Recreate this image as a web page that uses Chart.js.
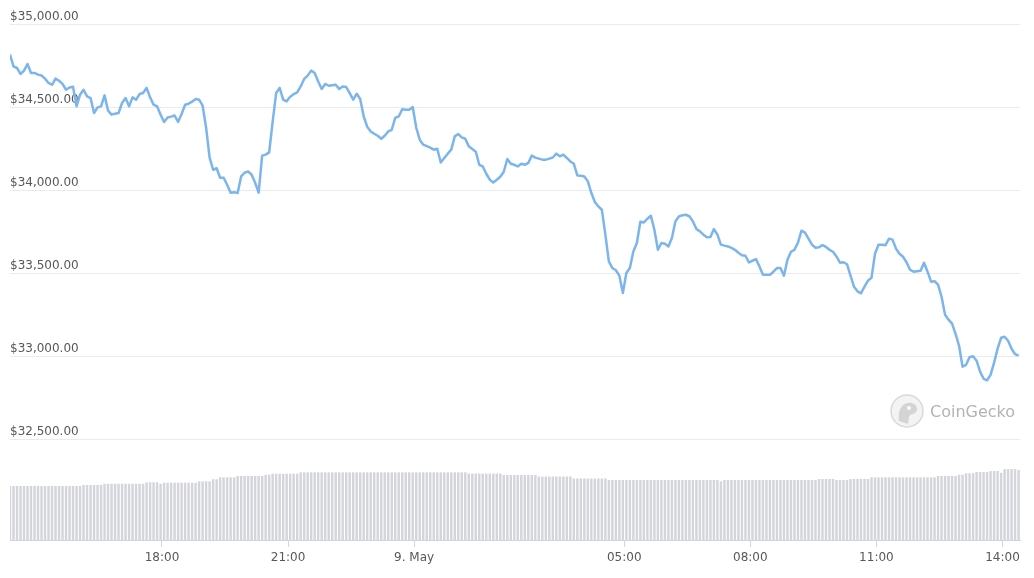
<!DOCTYPE html>
<html>
<head>
<meta charset="utf-8">
<title>BTC price, last 24h</title>
<script src="https://cdn.jsdelivr.net/npm/chart.js@4.4.1/dist/chart.umd.min.js"></script>
<style>
  body { margin: 0; background: #fff; }
  .wrap { position: relative; width: 1034px; height: 578px; }
  .mark {
    position: absolute; left: 890px; top: 394px;
    display: flex; align-items: center;
    font-family: "DejaVu Sans", sans-serif; font-size: 16px; color: #b3b3b3;
  }
  .mark span { margin-left: 6px; }
</style>
</head>
<body>
<div class="wrap">
  <canvas id="chart" width="1034" height="578"></canvas>
  <div class="mark">
    <svg width="34" height="34" viewBox="0 0 34 34">
      <circle cx="17" cy="17" r="16" fill="#f3f3f3" stroke="#d9d9d9" stroke-width="1.5"/>
      <path d="M9 27 C8 18 10 11 17 9 C23 8 27 11 27 15 C27 19 23 20 20 21 C18 23 19 27 18 30 Z" fill="#d4d4d4"/>
      <circle cx="19" cy="14" r="2" fill="#fafafa"/>
    </svg>
    <span>CoinGecko</span>
  </div>
</div>
<script>
// minutes after 14:23 on 8 May, one sample every 5 minutes
const stepMinutes = 5;

// price in USD, one row = one hour
const prices = [
  34815, 34745, 34735, 34699, 34719, 34759, 34705, 34705, 34695, 34690, 34671, 34645,
  34634, 34671, 34658, 34639, 34604, 34618, 34622, 34504, 34574, 34604, 34564, 34554,
  34464, 34498, 34504, 34570, 34478, 34454, 34460, 34464, 34524, 34554, 34504, 34558,
  34544, 34578, 34584, 34615, 34558, 34514, 34504, 34454, 34410, 34437, 34442, 34449,
  34410, 34458, 34514, 34520, 34532, 34548, 34544, 34508, 34375, 34195, 34122, 34131,
  34074, 34074, 34032, 33984, 33987, 33982, 34082, 34104, 34112, 34092, 34044, 33984,
  34207, 34213, 34227, 34412, 34584, 34615, 34544, 34534, 34562, 34577, 34588, 34624,
  34669, 34689, 34719, 34705, 34654, 34609, 34639, 34628, 34631, 34634, 34609, 34624,
  34620, 34584, 34544, 34580, 34548, 34443, 34381, 34353, 34339, 34327, 34309, 34327,
  34353, 34363, 34434, 34443, 34487, 34484, 34484, 34500, 34375, 34303, 34273, 34264,
  34255, 34243, 34249, 34166, 34193, 34219, 34243, 34323, 34337, 34317, 34309, 34263,
  34247, 34231, 34152, 34142, 34098, 34062, 34046, 34062, 34080, 34110, 34187, 34158,
  34152, 34142, 34158, 34152, 34163, 34207, 34195, 34189, 34183, 34183, 34189, 34196,
  34219, 34203, 34213, 34193, 34172, 34158, 34088, 34086, 34082, 34052, 33982, 33928,
  33901, 33881, 33731, 33570, 33530, 33517, 33484, 33380, 33500, 33530, 33630, 33681,
  33809, 33805, 33827, 33845, 33761, 33640, 33681, 33677, 33660, 33711, 33811, 33841,
  33848, 33851, 33842, 33811, 33765, 33751, 33731, 33715, 33717, 33765, 33731, 33671,
  33665, 33660, 33651, 33640, 33622, 33607, 33604, 33564, 33574, 33584, 33540, 33490,
  33490, 33490, 33508, 33530, 33530, 33484, 33580, 33628, 33640, 33683, 33755, 33743,
  33707, 33671, 33652, 33655, 33668, 33657, 33640, 33628, 33600, 33562, 33565, 33553,
  33484, 33418, 33390, 33378, 33418, 33454, 33472, 33616, 33671, 33671, 33668, 33707,
  33701, 33646, 33616, 33598, 33565, 33520, 33508, 33511, 33514, 33562, 33508, 33448,
  33451, 33430, 33357, 33249, 33219, 33195, 33134, 33062, 32936, 32947, 32993, 32999,
  32972, 32906, 32863, 32854, 32887, 32960, 33044, 33110, 33116, 33092, 33044, 33011,
  33002
];

// 24h volume, billions USD
const volumes = [
  36.0, 36.0, 36.0, 36.0, 36.0, 36.0, 36.0, 36.0, 36.0, 36.0, 36.0, 36.0,
  36.0, 36.0, 36.0, 36.0, 36.0, 36.0, 36.0, 36.0, 36.0, 36.7, 36.7, 36.7,
  36.7, 36.7, 36.7, 37.5, 37.5, 37.5, 37.5, 37.5, 37.5, 37.5, 37.5, 37.5,
  37.5, 37.5, 37.5, 38.5, 38.5, 38.5, 38.5, 37.5, 38.2, 38.2, 38.2, 38.2,
  38.2, 38.2, 38.2, 38.2, 38.2, 38.2, 39.1, 39.1, 39.1, 39.1, 40.5, 40.5,
  41.8, 41.8, 41.8, 41.8, 41.8, 42.7, 42.7, 42.7, 42.7, 42.7, 42.7, 42.7,
  42.7, 43.5, 43.5, 44.2, 44.2, 44.2, 44.2, 44.2, 44.2, 44.2, 44.2, 45.1,
  45.1, 45.1, 45.1, 45.1, 45.1, 45.1, 45.1, 45.1, 45.1, 45.1, 45.1, 45.1,
  45.1, 45.1, 45.1, 45.1, 45.1, 45.1, 45.1, 45.1, 45.1, 45.1, 45.1, 45.1,
  45.1, 45.1, 45.1, 45.1, 45.1, 45.1, 45.1, 45.1, 45.1, 45.1, 45.1, 45.1,
  45.1, 45.1, 45.1, 45.1, 45.1, 45.1, 45.1, 45.1, 45.1, 45.1, 45.1, 44.3,
  44.3, 44.3, 44.3, 44.3, 44.3, 44.3, 44.3, 44.3, 44.3, 43.3, 43.3, 43.3,
  43.3, 43.3, 43.3, 43.3, 43.3, 43.3, 43.3, 42.3, 42.3, 42.3, 42.3, 42.3,
  42.3, 42.3, 42.3, 42.3, 42.3, 41.0, 41.0, 41.0, 41.0, 41.0, 41.0, 41.0,
  41.0, 41.0, 41.0, 40.0, 40.0, 40.0, 40.0, 40.0, 40.0, 40.0, 40.0, 40.0,
  40.0, 40.0, 40.0, 40.0, 40.0, 40.0, 40.0, 40.0, 40.0, 40.0, 40.0, 40.0,
  40.0, 40.0, 40.0, 40.0, 40.0, 40.0, 40.0, 40.0, 40.0, 40.0, 40.0, 39.1,
  40.0, 40.0, 40.0, 40.0, 40.0, 40.0, 40.0, 40.0, 40.0, 40.0, 40.0, 40.0,
  40.0, 40.0, 40.0, 40.0, 40.0, 40.0, 40.0, 40.0, 40.0, 40.0, 40.0, 40.0,
  40.0, 40.0, 40.0, 40.7, 40.7, 40.7, 40.7, 40.7, 40.0, 40.0, 40.0, 40.0,
  40.7, 40.7, 40.7, 40.7, 40.7, 40.7, 41.8, 41.8, 41.8, 41.8, 41.8, 41.8,
  41.8, 41.8, 41.8, 41.8, 41.8, 41.8, 41.8, 41.8, 41.8, 41.8, 41.8, 41.8,
  41.8, 42.7, 42.7, 42.7, 42.7, 42.7, 42.7, 43.5, 43.5, 44.5, 44.5, 44.5,
  45.3, 45.3, 45.3, 45.3, 46.0, 46.0, 46.0, 44.8, 47.3, 47.3, 47.3, 47.3,
  46.7
];

const tickMinutes = [217, 397, 577, 877, 1057, 1237, 1417];
const tickLabels = ["18:00", "21:00", "9. May", "05:00", "08:00", "11:00", "14:00"];
const priceTicks = [32500, 33000, 33500, 34000, 34500, 35000];

Chart.defaults.font.family = "'DejaVu Sans', sans-serif";
Chart.defaults.font.size = 12;
Chart.defaults.color = "#585858";

const ctx = document.getElementById("chart").getContext("2d");
new Chart(ctx, {
  type: "line",
  data: {
    datasets: [
      {
        type: "line",
        label: "Price",
        data: prices.map((p, i) => ({ x: i * stepMinutes, y: p })),
        yAxisID: "y",
        borderColor: "#7cb5ec",
        borderWidth: 2.5,
        borderJoinStyle: "round",
        pointRadius: 0,
        tension: 0,
        order: 0,
      },
      {
        type: "bar",
        label: "Volume",
        data: volumes.map((v, i) => ({ x: i * stepMinutes, y: v })),
        yAxisID: "vol",
        backgroundColor: "#d3d5da",
        categoryPercentage: 1,
        barPercentage: 0.7,
        order: 1,
      },
    ],
  },
  options: {
    responsive: false,
    animation: false,
    layout: { padding: { left: 10, right: 14, top: 24, bottom: 0 } },
    plugins: {
      legend: { display: false },
      tooltip: { enabled: false },
    },
    scales: {
      x: {
        type: "linear",
        min: 0,
        max: 1442,
        offset: false,
        afterBuildTicks: (s) => {
          s.ticks = tickMinutes.map((v) => ({ value: v }));
        },
        afterFit: (s) => {
          s.height = 38;
        },
        grid: {
          offset: false,
          drawOnChartArea: false,
          drawTicks: true,
          tickLength: 7,
          color: "#ccd6eb",
        },
        border: { display: true, color: "#ccd6eb" },
        ticks: {
          autoSkip: false,
          maxRotation: 0,
          padding: 4,
          callback: (v) => tickLabels[tickMinutes.indexOf(v)],
        },
      },
      y: {
        position: "left",
        min: 31892,
        max: 35000,
        afterBuildTicks: (s) => {
          s.ticks = priceTicks.map((v) => ({ value: v }));
        },
        afterFit: (s) => {
          s.width = 0;
        },
        grid: { color: "#ebebeb", drawTicks: false },
        border: { display: false },
        ticks: {
          mirror: true,
          padding: 0,
          labelOffset: -7,
          callback: (v) =>
            "$" + v.toLocaleString("en-US", { minimumFractionDigits: 2, maximumFractionDigits: 2 }),
        },
      },
      vol: {
        display: false,
        position: "right",
        min: 0,
        max: 344,
      },
    },
  },
});
</script>
</body>
</html>
